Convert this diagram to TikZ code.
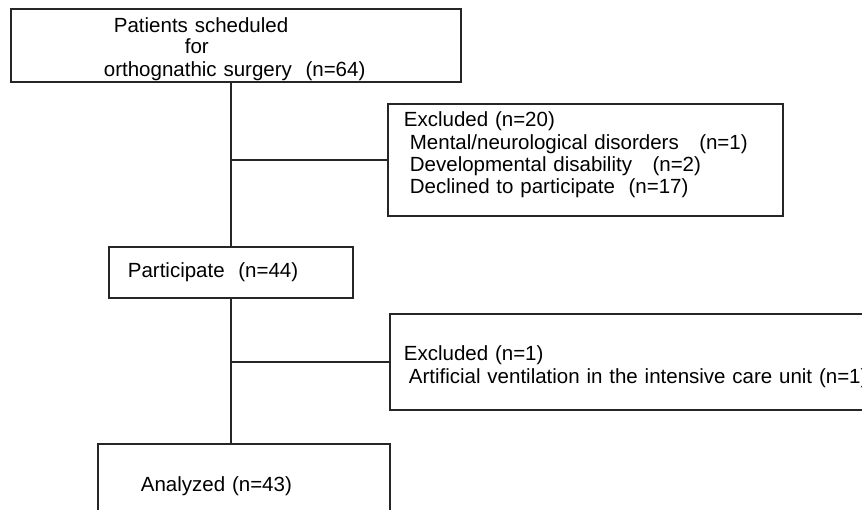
\documentclass[tikz,border=0pt]{standalone}
\usepackage{fontspec}
\setmainfont{Liberation Sans}
\tikzset{
    box/.style={draw=black!85, line width=1.8pt, align=left, inner ysep=0pt,
        anchor=north west, font=\fontsize{20.5}{22.3}\selectfont},
    link/.style={draw=black!85, line width=1.6pt},
}

\begin{document}
\begin{tikzpicture}[x=1pt,y=-1pt]
    \clip (0,0) rectangle (862,510);

    \node[box, text width=264pt, inner xsep=93pt, minimum height=73pt] (sched) at (10,8)
        {\rule{0pt}{23pt}\hspace*{10pt}Patients scheduled\\[-1.5pt]\hspace*{81pt}for\\[1pt]orthognathic surgery\ \ (n=64)};
    \node[box, text width=363pt, inner xsep=16pt, minimum height=112pt] (excl1) at (387,103)
        {Excluded (n=20)\\\hspace*{6pt}Mental/neurological disorders\ \ \ (n=1)\\\hspace*{6pt}Developmental disability\ \ \ (n=2)\\\hspace*{6pt}Declined to participate\ \ (n=17)\rule[-14pt]{0pt}{0pt}};
    \node[box, text width=206pt, inner xsep=19pt, minimum height=51pt] (part) at (108,246)
        {Participate\ \ (n=44)};
    \node[box, text width=500pt, inner xsep=14pt, minimum height=96pt] (excl2) at (389,313)
        {\rule{0pt}{24pt}Excluded (n=1)\\[1pt]\hspace*{5pt}Artificial ventilation in the intensive care unit (n=1)};
    \node[box, text width=206pt, inner xsep=43pt, minimum height=84pt] (anal) at (97,443)
        {Analyzed (n=43)};

    % trunk and side branches
    \draw[link] (sched.south -| part.north) -- (part.north);
    \draw[link] (excl1.west) -- (excl1.west -| part.north);
    \draw[link] (part.south) -- (anal.north -| part.south);
    \draw[link] (excl2.west) -- (excl2.west -| part.south);
\end{tikzpicture}
\end{document}
